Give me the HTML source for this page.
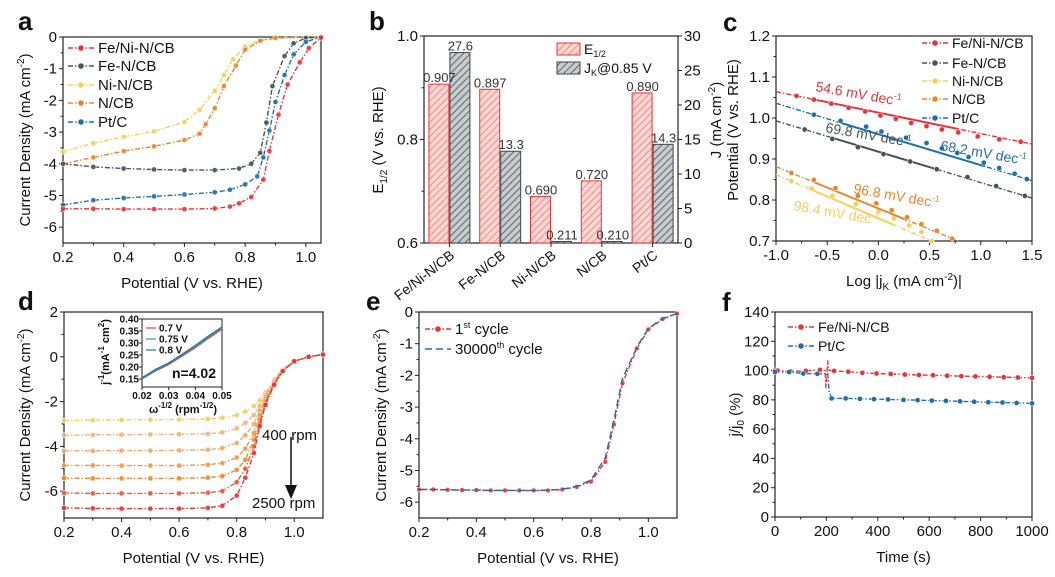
<!DOCTYPE html>
<html><head><meta charset="utf-8"><style>
html,body{margin:0;padding:0;background:#fff;}
svg{display:block;font-family:"Liberation Sans",Arial,sans-serif;}
</style></head><body>
<svg id="fig" width="1055" height="577" viewBox="0 0 1055 577"></svg>
<script>
// ---------- DATA ----------
// Panel a
const aX_FeNi=[0.2,0.3,0.4,0.5,0.6,0.7,0.75,0.78,0.82,0.86,0.88,0.91,0.94,0.98,1.01,1.05];
const aY_FeNi=[-5.42,-5.42,-5.43,-5.43,-5.43,-5.41,-5.35,-5.25,-5.05,-4.5,-3.6,-2.45,-1.5,-0.8,-0.35,-0.02];
const aX_FeN=[0.2,0.3,0.4,0.5,0.6,0.7,0.78,0.82,0.85,0.87,0.89,0.93,0.96,1.0,1.05];
const aY_FeN=[-4.0,-4.1,-4.15,-4.18,-4.2,-4.2,-4.15,-4.0,-3.65,-2.7,-1.55,-0.6,-0.2,-0.03,0];
const aX_NiN=[0.2,0.3,0.4,0.5,0.6,0.65,0.7,0.73,0.76,0.8,0.85,0.9,1.05];
const aY_NiN=[-3.62,-3.35,-3.15,-2.98,-2.68,-2.3,-1.7,-1.2,-0.7,-0.3,-0.1,-0.02,0];
const aX_NCB=[0.2,0.3,0.4,0.5,0.6,0.65,0.67,0.7,0.73,0.77,0.8,0.85,0.9,1.05];
const aY_NCB=[-4.0,-3.8,-3.6,-3.45,-3.25,-3.05,-2.75,-2.25,-1.55,-0.9,-0.4,-0.12,-0.03,0];
const aX_Pt=[0.2,0.3,0.4,0.5,0.6,0.7,0.75,0.8,0.84,0.86,0.88,0.9,0.93,0.96,1.0,1.05];
const aY_Pt=[-5.3,-5.15,-5.08,-5.03,-4.97,-4.9,-4.82,-4.65,-4.4,-3.8,-2.95,-2.05,-1.2,-0.55,-0.15,0];
// Panel b
const bCats=["Fe/Ni-N/CB","Fe-N/CB","Ni-N/CB","N/CB","Pt/C"];
const bE12=[0.907,0.897,0.690,0.720,0.890];
const bJK=[27.6,13.3,0.211,0.210,14.3];
const bE12Labels=["0.907","0.897","0.690","0.720","0.890"];
const bJKLabels=["27.6","13.3","0.211","0.210","14.3"];
// Panel c
const cX_FeNi=[-0.8,-0.63,-0.46,-0.29,-0.13,0.02,0.17,0.32,0.47,0.62,0.78,0.97,1.18,1.39];
const cY_FeNi=[1.054,1.045,1.035,1.025,1.016,1.006,0.998,0.988,0.980,0.972,0.965,0.955,0.948,0.942];
const cX_Pt=[-0.63,-0.37,-0.12,0.03,0.27,0.47,0.62,0.77,0.88,1.03,1.18,1.33,1.45];
const cY_Pt=[1.008,0.993,0.979,0.967,0.952,0.939,0.926,0.915,0.905,0.891,0.878,0.864,0.851];
const cX_FeN=[-0.72,-0.45,-0.2,0.05,0.31,0.57,0.87,1.15,1.43];
const cY_FeN=[0.972,0.949,0.929,0.912,0.894,0.875,0.856,0.834,0.81];
const cX_NCB=[-0.85,-0.63,-0.42,-0.2,-0.02,0.13,0.28,0.42,0.57,0.72];
const cY_NCB=[0.866,0.849,0.829,0.81,0.792,0.775,0.758,0.741,0.725,0.706];
const cX_NiN=[-0.85,-0.65,-0.45,-0.22,0,0.15,0.3,0.42,0.52];
const cY_NiN=[0.846,0.828,0.81,0.79,0.772,0.755,0.738,0.722,0.7];
// Panel d
const dX=[0.2,0.3,0.4,0.5,0.6,0.7,0.75,0.8,0.83,0.86,0.88,0.9,0.93,0.96,1.0,1.05,1.1];
const dY400=[-2.85,-2.83,-2.82,-2.81,-2.8,-2.78,-2.72,-2.6,-2.45,-2.2,-1.95,-1.6,-1.0,-0.55,-0.2,0.0,0.1];
const dY625=[-3.5,-3.49,-3.48,-3.47,-3.46,-3.44,-3.38,-3.2,-2.95,-2.6,-2.2,-1.7,-1.05,-0.58,-0.2,0.0,0.1];
const dY900=[-4.2,-4.2,-4.19,-4.19,-4.18,-4.15,-4.08,-3.85,-3.5,-3.0,-2.4,-1.8,-1.1,-0.6,-0.2,0,0.1];
const dY1225=[-4.85,-4.85,-4.86,-4.86,-4.86,-4.82,-4.75,-4.5,-4.1,-3.4,-2.6,-1.9,-1.15,-0.6,-0.2,0,0.1];
const dY1600=[-5.42,-5.43,-5.43,-5.43,-5.43,-5.4,-5.33,-5.05,-4.6,-3.7,-2.8,-2.0,-1.2,-0.62,-0.2,0,0.1];
const dY2025=[-6.08,-6.1,-6.1,-6.1,-6.1,-6.07,-6.0,-5.6,-5.0,-4.0,-3.0,-2.1,-1.2,-0.62,-0.2,0,0.1];
const dY2500=[-6.75,-6.77,-6.78,-6.78,-6.78,-6.75,-6.65,-6.2,-5.4,-4.3,-3.1,-2.15,-1.25,-0.64,-0.2,0,0.1];
const dInsetX=[0.02,0.025,0.03,0.035,0.04,0.045,0.05];
const dInset07=[0.15,0.183,0.21,0.245,0.28,0.32,0.358];
const dInset075=[0.152,0.186,0.213,0.249,0.285,0.325,0.362];
const dInset08=[0.155,0.19,0.217,0.253,0.29,0.33,0.367];
// Panel e
const eX=[0.2,0.25,0.3,0.35,0.4,0.45,0.5,0.55,0.6,0.65,0.7,0.75,0.8,0.85,0.88,0.91,0.96,1.0,1.05,1.1];
const eY1=[-5.6,-5.6,-5.61,-5.62,-5.62,-5.63,-5.63,-5.63,-5.63,-5.63,-5.6,-5.52,-5.35,-4.73,-3.55,-2.25,-1.15,-0.55,-0.22,-0.05];
const eY30000=[-5.6,-5.6,-5.61,-5.62,-5.62,-5.63,-5.63,-5.63,-5.63,-5.62,-5.59,-5.5,-5.3,-4.6,-3.4,-2.1,-1.1,-0.52,-0.2,-0.05];
// Panel f
const fX_FeNi=[0,10,60,120,175,195,198,205,208,215,230,285,340,395,450,505,560,615,670,725,780,835,890,945,1000];
const fY_FeNi=[100,100,99.5,99.8,100.5,100,88,107,100.5,100.2,99.8,99.2,98.5,98,97.7,97.3,97,96.8,96.5,96.2,96,95.8,95.5,95.3,95];
const fX_Pt=[0,55,110,165,205,210,215,220,275,330,385,440,500,555,610,665,720,775,830,885,940,1000];
const fY_Pt=[99,99,98,97.8,98,86,84,81,81,80.7,80.5,80.3,80,79.8,79.5,79.3,79,78.7,78.4,78.2,77.9,77.6];

// ---------- HELPERS ----------
const NS="http://www.w3.org/2000/svg";
const svg=document.getElementById('fig');
function mk(tag,at,parent){const e=document.createElementNS(NS,tag);for(const k in at)e.setAttribute(k,at[k]);(parent||svg).appendChild(e);return e;}
function txt(s,x,y,size,opt,parent){opt=opt||{};const t=mk('text',{x:x,y:y,'font-size':size,fill:opt.fill||'#111','text-anchor':opt.anchor||'start','font-weight':opt.bold?'bold':'normal'},parent);if(opt.rot!==undefined)t.setAttribute('transform','rotate('+opt.rot+' '+x+' '+y+')');t.innerHTML=s;return t;}
function scale(d0,d1,p0,p1){return v=>p0+(v-d0)/(d1-d0)*(p1-p0);}
function axes(name,px0,px1,py0,py1,xd,yd,xt,yt,xlab,ylab,opt){
  opt=opt||{};
  const g=mk('g',{});
  
  
  const sx=scale(xd[0],xd[1],px0,px1), sy=scale(yd[0],yd[1],py0,py1);
  const fr=mk('rect',{x:px0,y:py0,width:px1-px0,height:py1-py0,fill:'none',stroke:'#222','stroke-width':1.2},g);
  
  
  xt.forEach((v,i)=>{const x=sx(v);mk('line',{x1:x,x2:x,y1:py1,y2:py1+4,stroke:'#222'},g);
    if(i<xt.length-1&&opt.xminor!==false){const xm=sx((v+xt[i+1])/2);mk('line',{x1:xm,x2:xm,y1:py1,y2:py1+2.5,stroke:'#222'},g);}
    const t=txt(opt.xfmt?opt.xfmt(v):v.toFixed(opt.xdec||0),x,py1+19,15,{anchor:'middle'},g);
    
    });
  yt.forEach((v,i)=>{const y=sy(v);mk('line',{x1:px0-4,x2:px0,y1:y,y2:y,stroke:'#222'},g);
    if(i<yt.length-1){const ym=sy((v+yt[i+1])/2);mk('line',{x1:px0-2.5,x2:px0,y1:ym,y2:ym,stroke:'#222'},g);}
    const t=txt(v.toFixed(opt.ydec||0),px0-6,y+5,15,{anchor:'end'},g);
    
    });
  if(xlab){const t=txt(xlab,(px0+px1)/2,py1+45,15,{anchor:'middle'},g);
    
    }
  if(ylab){const yx=opt.ylabX||px0-37;const t=txt(ylab,yx,(py0+py1)/2,15,{anchor:'middle',rot:-90},g);
    
    }
  return {sx,sy,g};
}
function series(ax,xs,ys,color,name,dash,r,every){
  const pts=xs.map((x,i)=>ax.sx(x).toFixed(1)+','+ax.sy(ys[i]).toFixed(1)).join(' ');
  const p=mk('polyline',{points:pts,fill:'none',stroke:color,'stroke-width':1.4,'stroke-dasharray':dash||'5,2,1.5,2'});
  
  
  if(r){xs.forEach((x,i)=>{if(every&&i%every)return;const c=mk('circle',{cx:ax.sx(x),cy:ax.sy(ys[i]),r:r,fill:color,stroke:'#fff','stroke-width':0.5,'fill-opacity':0.9});
    
    });}
}
function legend(x,y,color,label,name,dash,marker,size){
  const l=mk('line',{x1:x,x2:x+26,y1:y,y2:y,stroke:color,'stroke-width':1.4,'stroke-dasharray':dash||'5,2,1.5,2'});
  
  
  if(marker!==false){const c=mk('circle',{cx:x+13,cy:y,r:2.8,fill:color});
    
    }
  const t=txt(label,x+30,y+5,size||15,{});
  
  
}
function panelLetter(s,x,y){const t=txt(s,x,y,26,{bold:true});
  
  }
const RED='#e8333a',GRAY='#4a5258',YEL='#f5cf5c',ORA='#e8862e',BLUE='#1f6fad';

// ---------- PANEL A ----------
panelLetter('a',18,30);
const A=axes('panel-a',63,321,37,243,[0.2,1.05],[0,-6.5],[0.2,0.4,0.6,0.8,1.0],[0,-1,-2,-3,-4,-5,-6],'Potential (V vs. RHE)','Current Density (mA cm<tspan font-size="10" dy="-6">-2</tspan><tspan dy="6">)</tspan>',{xdec:1,ylabX:30});
series(A,aX_NiN,aY_NiN,YEL,'ni-n-cb',null,2.6);
series(A,aX_NCB,aY_NCB,ORA,'n-cb',null,2.6);
series(A,aX_FeN,aY_FeN,GRAY,'fe-n-cb',null,2.6);
series(A,aX_Pt,aY_Pt,BLUE,'pt-c',null,2.6);
series(A,aX_FeNi,aY_FeNi,RED,'fe-ni-n-cb',null,2.6);
legend(68,48,RED,'Fe/Ni-N/CB','a-fe-ni-n-cb');
legend(68,66,GRAY,'Fe-N/CB','a-fe-n-cb');
legend(68,85,YEL,'Ni-N/CB','a-ni-n-cb');
legend(68,103,ORA,'N/CB','a-n-cb');
legend(68,122,BLUE,'Pt/C','a-pt-c');

// ---------- PANEL B ----------
panelLetter('b',369,30);
(function(){
  const defs=mk('defs',{});
  const p1=mk('pattern',{id:'hr',width:5,height:5,patternUnits:'userSpaceOnUse',patternTransform:'rotate(45)'},defs);
  mk('rect',{width:5,height:5,fill:'#fbd7d4'},p1);mk('line',{x1:0,y1:0,x2:0,y2:5,stroke:'#f08a85','stroke-width':2},p1);
  const p2=mk('pattern',{id:'hg',width:5,height:5,patternUnits:'userSpaceOnUse',patternTransform:'rotate(45)'},defs);
  mk('rect',{width:5,height:5,fill:'#c8cccf'},p2);mk('line',{x1:0,y1:0,x2:0,y2:5,stroke:'#5f676c','stroke-width':2},p2);
  const px0=424,px1=678,py0=36,py1=243;
  const sy=scale(1.0,0.6,py0,py1), sy2=scale(30,0,py0,py1);
  const fr=mk('rect',{x:px0,y:py0,width:px1-px0,height:py1-py0,fill:'none',stroke:'#222','stroke-width':1.2});
  
  
  [1.0,0.8,0.6].forEach(v=>{mk('line',{x1:px0-4,x2:px0,y1:sy(v),y2:sy(v),stroke:'#222'});
    const t=txt(v.toFixed(1),px0-6,sy(v)+5,15,{anchor:'end'});
    
    });
  [0.9,0.7].forEach(v=>mk('line',{x1:px0-2.5,x2:px0,y1:sy(v),y2:sy(v),stroke:'#222'}));
  [0,5,10,15,20,25,30].forEach(v=>{mk('line',{x1:px1,x2:px1+4,y1:sy2(v),y2:sy2(v),stroke:'#222'});
    const t=txt(String(v),px1+6,sy2(v)+5,15,{});
    
    });
  const gw=(px1-px0)/bCats.length, bw=20;
  bCats.forEach((c,i)=>{
    const cx=px0+gw*i+gw/2;
    const r=mk('rect',{x:cx-bw-0.5,y:sy(bE12[i]),width:bw,height:py1-sy(bE12[i]),fill:'url(#hr)',stroke:'#e8333a','stroke-width':1});
    
    
    const g=mk('rect',{x:cx+0.5,y:sy2(bJK[i]),width:bw,height:Math.max(py1-sy2(bJK[i]),1.5),fill:'url(#hg)',stroke:'#3e464b','stroke-width':1});
    
    
    const t1=txt(bE12Labels[i],cx-bw/2,sy(bE12[i])-2,13,{anchor:'middle',fill:'#333'});
    
    
    const t2=txt(bJKLabels[i],cx+bw/2+1,sy2(bJK[i])-2,13,{anchor:'middle',fill:'#333'});
    
    
    mk('line',{x1:cx,x2:cx,y1:py1,y2:py1+4,stroke:'#222'});
    const tl=txt(c,cx+6,py1+14,14,{anchor:'end',rot:-38});
    
    
  });
  const yl=txt('E<tspan font-size="10" dy="4">1/2</tspan><tspan dy="-4"> (V vs. RHE)</tspan>',383,140,15,{anchor:'middle',rot:-90});
  
  
  const l1=mk('rect',{x:557,y:43,width:23,height:12,fill:'url(#hr)',stroke:'#e8333a'});
  
  
  const l2=mk('rect',{x:557,y:62,width:23,height:12,fill:'url(#hg)',stroke:'#3e464b'});
  
  
  const lt1=txt('E<tspan font-size="9" dy="3">1/2</tspan>',584,54,14,{});
  
  
  const lt2=txt('J<tspan font-size="9" dy="3">K</tspan><tspan dy="-3">@0.85 V</tspan>',584,73,14,{});
  
  
})();

// ---------- PANEL C ----------
panelLetter('c',723,31);
const C=axes('panel-c',776,1032,36,241,[-1,1.5],[1.2,0.7],[-1,-0.5,0,0.5,1.0,1.5],[1.2,1.1,1.0,0.9,0.8,0.7],'Log |j<tspan font-size="10" dy="4">K</tspan><tspan dy="-4"> (mA cm</tspan><tspan font-size="10" dy="-6">-2</tspan><tspan dy="6">)|</tspan>',null,{xdec:1,ydec:1,xfmt:v=>v.toFixed(1)});
(function(){
  const t1=txt('J (mA cm<tspan font-size="10" dy="-6">-2</tspan><tspan dy="6">)</tspan>',721,120,15,{anchor:'middle',rot:-90});
  
  
  const t2=txt('Potential (V vs. RHE)',738,130,15,{anchor:'middle',rot:-90});
  
  
})();
function tafel(xs,ys,color,name){
  // solid fitted segment through measured markers, dashed extension to axes range
  const n=xs.length, s=(ys[n-1]-ys[0])/(xs[n-1]-xs[0]);
  const f=x=>ys[0]+s*(x-xs[0]);
  const xa=-1, xb=Math.min(1.5,0.7<f(1.5)?1.5:xs[0]+(0.7-ys[0])/s);
  const d=mk('line',{x1:C.sx(xa),y1:C.sy(f(xa)),x2:C.sx(xb),y2:C.sy(f(xb)),stroke:color,'stroke-width':1.4,'stroke-dasharray':'5,2,1.5,2'});
  
  
  const lo=xs[Math.min(1,n-1)], hi=xs[Math.max(n-4,1)];
  const so=mk('line',{x1:C.sx(lo),y1:C.sy(f(lo)),x2:C.sx(hi),y2:C.sy(f(hi)),stroke:color,'stroke-width':2});
  
  
  xs.forEach((x,i)=>{const c=mk('circle',{cx:C.sx(x),cy:C.sy(ys[i]),r:2.6,fill:color,stroke:'#fff','stroke-width':0.5});
    
    });
}
tafel(cX_NiN,cY_NiN,YEL,'c-ni-n-cb');
tafel(cX_NCB,cY_NCB,ORA,'c-n-cb');
tafel(cX_FeN,cY_FeN,GRAY,'c-fe-n-cb');
tafel(cX_Pt,cY_Pt,BLUE,'c-pt-c');
tafel(cX_FeNi,cY_FeNi,RED,'c-fe-ni-n-cb');
[['54.6',815,91,RED],['69.8',825,132,GRAY],['68.2',940,150,BLUE],['96.8',853,193,ORA],['98.4',793,210,YEL]].forEach(a=>{
  const t=txt(a[0]+' mV dec<tspan font-size="9" dy="-6">-1</tspan>',a[1],a[2],14,{fill:a[3],rot:10});
  
  });
legend(922,43,RED,'Fe/Ni-N/CB','c-fe-ni-n-cb',null,true,14);
legend(922,63,GRAY,'Fe-N/CB','c-fe-n-cb',null,true,14);
legend(922,81,YEL,'Ni-N/CB','c-ni-n-cb',null,true,14);
legend(922,99,ORA,'N/CB','c-n-cb',null,true,14);
legend(922,118,BLUE,'Pt/C','c-pt-c',null,true,14);

// ---------- PANEL D ----------
panelLetter('d',18,310);
const D=axes('panel-d',64,323,312,518,[0.2,1.1],[2,-7.2],[0.2,0.4,0.6,0.8,1.0],[2,0,-2,-4,-6],'Potential (V vs. RHE)','Current Density (mA cm<tspan font-size="10" dy="-6">-2</tspan><tspan dy="6">)</tspan>',{xdec:1,ylabX:30});
const dSeries=[dY400,dY625,dY900,dY1225,dY1600,dY2025,dY2500];
const dCols=['#f5cf5c','#f3b27a','#f0a868','#ee9a45','#ec8a33','#ea5a36','#e8333a'];
dSeries.forEach((ys,i)=>series(D,dX,ys,dCols[i],'d-rpm-curve-'+i,null,2.6));
(function(){
  const a=txt('400 rpm',262,440,15,{});
  
  
  const b=txt('2500 rpm',252,508,15,{});
  
  
  const l=mk('line',{x1:291,y1:437,x2:291,y2:485,stroke:'#111','stroke-width':1.5});
  
  
  const h=mk('polygon',{points:'285,485 297,485 291,499',fill:'#111'});
  
  
  // inset
  const ix0=142,ix1=222,iy0=319,iy1=387;
  const sx=scale(0.02,0.05,ix0,ix1), sy=scale(0.4,0.15,iy0,iy1-8);
  const r=mk('rect',{x:ix0,y:iy0,width:ix1-ix0,height:iy1-iy0,fill:'#fff',stroke:'#222'});
  
  
  [0.02,0.03,0.04,0.05].forEach(v=>{mk('line',{x1:sx(v),x2:sx(v),y1:iy1,y2:iy1+3,stroke:'#222'});
    const t=txt(v.toFixed(2),sx(v),iy1+12,10,{anchor:'middle',bold:true});
    
    });
  [0.15,0.2,0.25,0.3,0.35,0.4].forEach(v=>{mk('line',{x1:ix0-3,x2:ix0,y1:sy(v),y2:sy(v),stroke:'#222'});
    const t=txt(v.toFixed(2),ix0-3,sy(v)+3.5,10,{anchor:'end',bold:true});
    
    });
  [[dInset07,'#d9443e','0.7 V'],[dInset075,'#3a9a8c','0.75 V'],[dInset08,'#2a6fb0','0.8 V']].forEach((s,k)=>{
    const p=mk('polyline',{points:dInsetX.map((x,i)=>sx(x)+','+sy(s[0][i])).join(' '),fill:'none',stroke:s[1],'stroke-width':1.2});
    
    
    const ll=mk('line',{x1:146,x2:156,y1:328+k*11,y2:328+k*11,stroke:s[1],'stroke-width':1.2});
    
    
    const lt=txt(s[2],159,331.5+k*11,10,{bold:true});
    
    });
  const n=txt('n=4.02',172,378,14,{bold:true});
  
  
  const xl=txt('ω<tspan font-size="8" dy="-5">-1/2</tspan><tspan dy="5"> (rpm</tspan><tspan font-size="8" dy="-5">-1/2</tspan><tspan dy="5">)</tspan>',183,413,11,{anchor:'middle',bold:true});
  
  
  const yl=txt('j<tspan font-size="8" dy="-5">-1</tspan><tspan dy="5">(mA</tspan><tspan font-size="8" dy="-5">-1</tspan><tspan dy="5"> cm</tspan><tspan font-size="8" dy="-5">2</tspan><tspan dy="5">)</tspan>',109,352,11,{anchor:'middle',bold:true,rot:-90});
  
  
})();

// ---------- PANEL E ----------
panelLetter('e',366,310);
const E=axes('panel-e',419,677,312,518,[0.2,1.1],[0,-6.5],[0.2,0.4,0.6,0.8,1.0],[0,-1,-2,-3,-4,-5,-6],'Potential (V vs. RHE)','Current Density (mA cm<tspan font-size="10" dy="-6">-2</tspan><tspan dy="6">)</tspan>',{xdec:1,ylabX:386});
series(E,eX,eY1,RED,'e-1st-cycle',null,2.4);
series(E,eX,eY30000,BLUE,'e-30000th-cycle','7,4',0);
legend(425,329,RED,'1<tspan font-size="9" dy="-6">st</tspan><tspan dy="6"> cycle</tspan>','e-1st-cycle');
legend(425,349,BLUE,'30000<tspan font-size="9" dy="-6">th</tspan><tspan dy="6"> cycle</tspan>','e-30000th-cycle','7,4',false);

// ---------- PANEL F ----------
panelLetter('f',722,311);
const F=axes('panel-f',775,1032,312,517,[0,1000],[140,0],[0,200,400,600,800,1000],[0,20,40,60,80,100,120,140],'Time (s)','j/j<tspan font-size="10" dy="4">0</tspan><tspan dy="-4"> (%)</tspan>',{ylabX:740});
series(F,fX_Pt,fY_Pt,BLUE,'f-pt-c',null,0);
series(F,fX_FeNi,fY_FeNi,RED,'f-fe-ni-n-cb',null,0);
fX_FeNi.forEach((x,i)=>{if(i>=5&&i<=9)return;const c=mk('circle',{cx:F.sx(x),cy:F.sy(fY_FeNi[i]),r:2.6,fill:RED,stroke:'#fff','stroke-width':0.5});
  
  });
fX_Pt.forEach((x,i)=>{if(i>=4&&i<=6)return;const c=mk('circle',{cx:F.sx(x),cy:F.sy(fY_Pt[i]),r:2.6,fill:BLUE,stroke:'#fff','stroke-width':0.5});
  
  });
legend(788,327,RED,'Fe/Ni-N/CB','f-fe-ni-n-cb',null,true,14);
legend(788,346,BLUE,'Pt/C','f-pt-c',null,true,14);
</script>
</body></html>
